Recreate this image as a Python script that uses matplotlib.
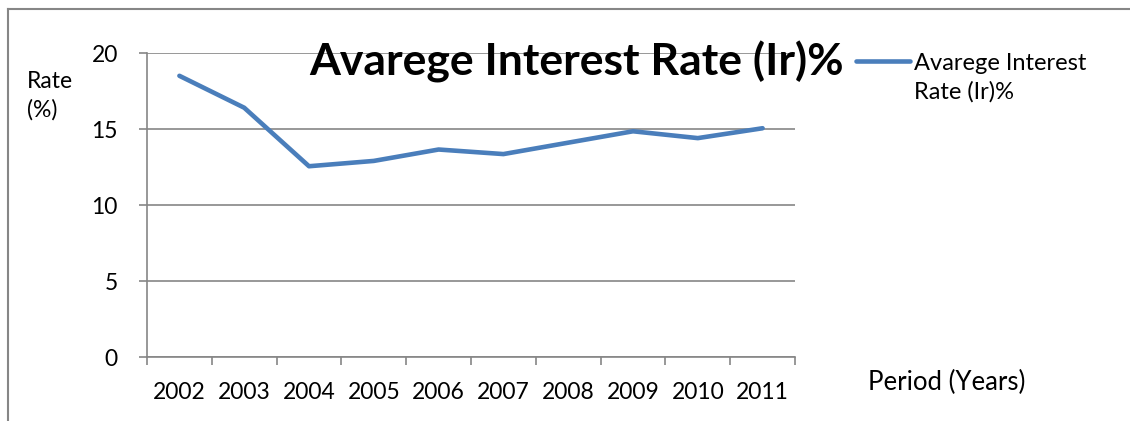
import numpy as np
import matplotlib
matplotlib.use('Agg')
from matplotlib import pyplot as plt
from matplotlib.lines import Line2D

#Data
years = ['2002', '2003', '2004', '2005', '2006', '2007', '2008', '2009', '2010', '2011']
rate = [18.5, 16.4, 12.55, 12.9, 13.65, 13.35, 14.1, 14.85, 14.4, 15.05]
series_name = 'Avarege Interest Rate (Ir)%'

plt.rcParams['font.family'] = ['Lato', 'DejaVu Sans']

W, H = 1130, 421
fig = plt.figure(figsize=(W/100, H/100), dpi=100)
ax = fig.add_axes([147/W, (H-357)/H, (795-147)/W, (357-53)/H])

grid_c = '#868686'
line_c = '#4A7EBB'
fs = 16.5

x = np.arange(len(years))
ax.plot(x, rate, color=line_c, linewidth=3.3, solid_capstyle='round', zorder=3)

ax.set_xlim(-0.5, len(years)-0.5)
ax.set_ylim(0, 20)
ax.set_yticks([0, 5, 10, 15, 20])
ax.yaxis.grid(True, color=grid_c, linewidth=1.2, zorder=0)

#category boundaries as ticks, labels at centres
ax.set_xticks(np.arange(-0.5, len(years), 1), minor=True)
ax.set_xticks(x)
ax.set_xticklabels(years, fontsize=fs)
ax.tick_params(axis='x', which='major', length=0, pad=18)
ax.tick_params(axis='x', which='minor', length=6, color=grid_c, width=1.2, direction='out')
ax.tick_params(axis='y', length=6, color=grid_c, width=1.2, pad=15, labelsize=fs)

for s in ['top', 'right']:
    ax.spines[s].set_visible(False)
for s in ['left', 'bottom']:
    ax.spines[s].set_color(grid_c)
    ax.spines[s].set_linewidth(1.2)

#texts
fig.text(577/W, 1-62/H, series_name, fontsize=32, fontweight='bold', ha='center', va='center')
fig.text(27/W, 1-96/H, 'Rate\n(%)', fontsize=fs, ha='left', va='center', linespacing=1.4)
fig.text(868/W, 1-382/H, 'Period (Years)', fontsize=18.5, ha='left', va='center')

#legend
fig.add_artist(Line2D([856/W, 910/W], [1-61/H, 1-61/H], color=line_c, linewidth=3.3,
                      solid_capstyle='round'))
fig.text(914/W, 1-78/H, 'Avarege Interest\nRate (Ir)%', fontsize=17, ha='left', va='center',
         linespacing=1.4)

#chart frame
fig.add_artist(Line2D([8/W, 1], [1-9/H, 1-9/H], color=grid_c, linewidth=1.5))
fig.add_artist(Line2D([8/W, 8/W], [0, 1-9/H], color=grid_c, linewidth=1.5))

fig.savefig('out.png', dpi=100)
